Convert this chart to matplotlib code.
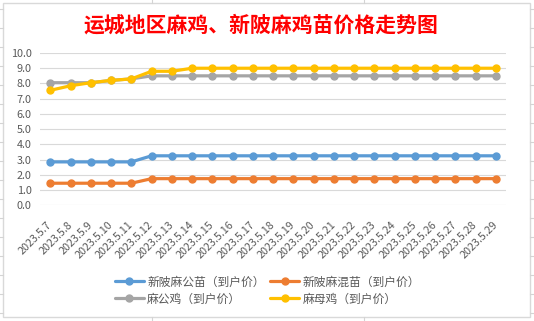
import matplotlib
matplotlib.use("Agg")
import matplotlib.pyplot as plt
from matplotlib.lines import Line2D
from matplotlib.patches import Rectangle

plt.rcParams['font.family'] = ['Noto Sans CJK SC', 'DejaVu Sans']

dates = ["2023.5.7", "2023.5.8", "2023.5.9", "2023.5.10", "2023.5.11", "2023.5.12",
         "2023.5.13", "2023.5.14", "2023.5.15", "2023.5.16", "2023.5.17", "2023.5.18",
         "2023.5.19", "2023.5.20", "2023.5.21", "2023.5.22", "2023.5.23", "2023.5.24",
         "2023.5.25", "2023.5.26", "2023.5.27", "2023.5.28", "2023.5.29"]
xinpi_gongmiao = [2.85, 2.85, 2.85, 2.85, 2.85] + [3.25] * 18
xinpi_hunmiao = [1.45, 1.45, 1.45, 1.45, 1.45] + [1.75] * 18
ma_gongji = [8.05, 8.05, 8.05, 8.2, 8.3] + [8.5] * 18
ma_muji = [7.55, 7.85, 8.05, 8.2, 8.3, 8.8, 8.8] + [9.0] * 16
yticks = [0, 1, 2, 3, 4, 5, 6, 7, 8, 9, 10]
labels = ["新陂麻公苗（到户价）", "新陂麻混苗（到户价）", "麻公鸡（到户价）", "麻母鸡（到户价）"]
colors = ["#5B9BD5", "#ED7D31", "#A5A5A5", "#FFC000"]
title = "运城地区麻鸡、新陂麻鸡苗价格走势图"

W, H = 534, 321
fig = plt.figure(figsize=(W / 100, H / 100), dpi=100)
fig.patch.set_facecolor("white")

# spreadsheet grid stubs outside chart frame
for yy in range(9, 321, 19):
    fig.add_artist(Line2D([0, 3 / W], [1 - yy / H] * 2, color="#d4d4d4", lw=0.8))
    fig.add_artist(Line2D([530 / W, 1], [1 - yy / H] * 2, color="#d4d4d4", lw=0.8))
for xx in (152, 364):
    fig.add_artist(Line2D([xx / W] * 2, [1 - 3 / H, 1], color="#d4d4d4", lw=0.8))
    fig.add_artist(Line2D([xx / W] * 2, [0, 1 - 317 / H], color="#d4d4d4", lw=0.8))
fig.add_artist(Rectangle((3 / W, 1 - 317 / H), 527 / W, 314 / H, transform=fig.transFigure,
                         fill=False, edgecolor="#d9d9d9", lw=1.0))

left, right, top, bottom = 40.2, 506, 53, 205.3
ax = fig.add_axes([left / W, 1 - bottom / H, (right - left) / W, (bottom - top) / H])
x = list(range(len(dates)))
series = [xinpi_gongmiao, xinpi_hunmiao, ma_gongji, ma_muji]
handles = []
for s, c, lab in zip(series, colors, labels):
    h, = ax.plot(x, s, color=c, lw=2.3, marker="o", ms=5, label=lab, solid_capstyle="round")
    handles.append(h)

ax.set_xlim(-0.5, len(dates) - 0.5)
ax.set_ylim(0, 10)
ax.set_yticks(yticks)
ax.set_yticklabels([f"{v:.1f}" for v in yticks])
ax.set_xticks(x)
ax.set_xticklabels(dates, rotation=45, ha="right", va="center", rotation_mode="anchor")
ax.tick_params(axis="both", length=0, labelsize=7.8, labelcolor="#595959")
ax.tick_params(axis="y", pad=6)
ax.tick_params(axis="x", pad=13)
for sp in ax.spines.values():
    sp.set_visible(False)
ax.grid(axis="y", color="#d9d9d9", lw=0.8)
ax.set_axisbelow(True)

fig.text(261 / W, 1 - 25 / H, title, color="#FF0000", fontsize=15, fontweight="bold",
         ha="center", va="center")

order = [0, 2, 1, 3]
fig.legend([handles[i] for i in order], [labels[i] for i in order], ncol=2,
           loc="center", bbox_to_anchor=(267.5 / W, 1 - 290.5 / H), frameon=False,
           fontsize=8.5, labelcolor="#595959", handlelength=2.4, handletextpad=0.3,
           columnspacing=0.5, labelspacing=0.35, borderpad=0, borderaxespad=0)

fig.savefig("out.png", dpi=100)
